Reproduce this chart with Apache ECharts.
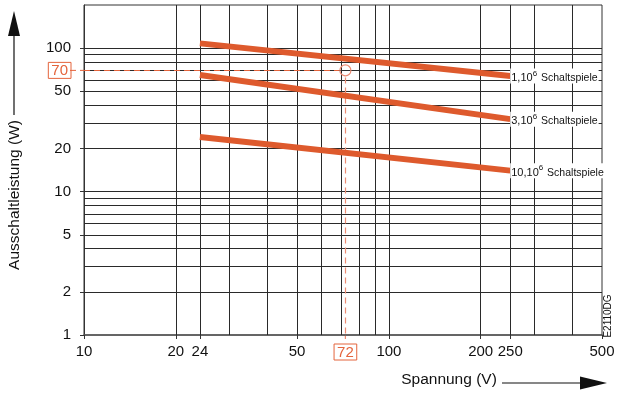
<!DOCTYPE html>
<html>
<head>
<meta charset="utf-8">
<script src="https://cdn.jsdelivr.net/npm/echarts@6/dist/echarts.min.js"></script>
<style>
  html, body { margin: 0; padding: 0; background: #fff; }
  #chart { width: 618px; height: 394px; }
</style>
</head>
<body>
<div id="chart"></div>
<script>
// Kurven: Ausschaltleistung ueber Spannung (log-log)
const voltage = [24, 250]
const power1M = [108, 64]
const power3M = [65, 32]
const power10M = [24, 14]
const curveLabels = ['1,10', '3,10', '10,10']

const xLabelValues = [10, 20, 24, 50, 72, 100, 200, 250, 500]
const yLabelValues = [1, 2, 5, 10, 20, 50, 70, 100]
const xGridValues = [20, 24, 30, 40, 50, 60, 70, 80, 90, 100, 200, 250, 300, 400]
const yGridValues = [2, 3, 4, 5, 6, 7, 8, 9, 10, 20, 30, 40, 50, 60, 70, 80, 90, 100]

// Ablesebeispiel
const refVoltage = 72
const refPower = 70

const red = '#de5a2d'
const refRed = '#e4643c'
const refPink = '#ec8c74'
const gridColor = '#2a2a2a'
const font = 'Liberation Sans, Arial, sans-serif'

const chart = echarts.init(document.getElementById('chart'))

function curve(values, idx) {
  return {
    type: 'line',
    z: 5,
    data: voltage.map((v, i) => [v, values[i]]),
    showSymbol: false,
    symbol: 'none',
    silent: true,
    lineStyle: { color: red, width: 6, cap: 'butt' },
    emphasis: { disabled: true },
    endLabel: {
      show: true,
      distance: 0,
      formatter: '{a|' + curveLabels[idx] + '}{sup|6}{b| Schaltspiele}',
      backgroundColor: '#fff',
      padding: [1, 1, 0, 1],
      rich: {
        a: { fontFamily: font, fontSize: 11, color: '#111', verticalAlign: 'bottom', lineHeight: 14 },
        sup: { fontFamily: font, fontSize: 8, color: '#111', verticalAlign: 'top', lineHeight: 14, padding: [0, 1, 6, 0] },
        b: { fontFamily: font, fontSize: 10.5, color: '#111', verticalAlign: 'bottom', lineHeight: 14 }
      }
    }
  }
}

chart.setOption({
  animation: false,
  grid: {
    left: 84,
    right: 16,
    top: 5,
    bottom: 59,
    show: true,
    borderColor: '#333',
    borderWidth: 1
  },
  xAxis: {
    type: 'log',
    logBase: 10,
    min: 10,
    max: 500,
    axisLine: { show: true, lineStyle: { color: '#555', width: 1.5 } },
    axisTick: { show: true, length: 4, customValues: [10, 20, 24, 50, 100, 200, 250, 500], lineStyle: { color: '#333' } },
    splitLine: { show: false },
    axisLabel: {
      customValues: xLabelValues,
      margin: 9,
      fontFamily: font,
      fontSize: 15,
      color: '#111',
      formatter: function (v) {
        return v === refVoltage ? '{box|' + v + '}' : String(v)
      },
      rich: {
        box: { color: refRed, borderColor: refRed, borderWidth: 1, padding: [1, 3, 0, 3], fontSize: 15, fontFamily: font }
      }
    }
  },
  yAxis: {
    type: 'log',
    logBase: 10,
    min: 1,
    max: 200,
    axisLine: { show: true, lineStyle: { color: '#333' } },
    axisTick: { show: true, length: 4, customValues: [1, 2, 5, 10, 20, 50, 100], lineStyle: { color: '#333' } },
    splitLine: { show: false },
    axisLabel: {
      customValues: yLabelValues,
      margin: 13,
      fontFamily: font,
      fontSize: 15,
      color: '#111',
      formatter: function (v) {
        return v === refPower ? '{box|' + v + '}' : String(v)
      },
      rich: {
        box: { color: refRed, borderColor: refRed, borderWidth: 1, padding: [1, 3, 0, 3], fontSize: 15, fontFamily: font }
      }
    }
  },
  series: [
    {
      // Gitternetz
      type: 'line',
      z: 1,
      data: [],
      silent: true,
      markLine: {
        silent: true,
        symbol: 'none',
        animation: false,
        label: { show: false },
        lineStyle: { color: gridColor, width: 1, type: 'solid' },
        emphasis: { disabled: true },
        data: xGridValues.map(v => ({ xAxis: v })).concat(yGridValues.map(v => ({ yAxis: v })))
      }
    },
    {
      // Ablesebeispiel 72 V / 70 W
      type: 'scatter',
      z: 6,
      data: [[refVoltage, refPower]],
      symbol: 'circle',
      symbolSize: 11,
      silent: true,
      itemStyle: { color: 'rgba(255,255,255,0)', borderColor: refPink, borderWidth: 1.2, opacity: 1 },
      markLine: {
        silent: true,
        symbol: 'none',
        animation: false,
        label: { show: false },
        emphasis: { disabled: true },
        data: [
          [{ coord: [10, refPower], lineStyle: { color: refRed, width: 1, type: [6, 4] } }, { coord: [refVoltage / 1.05, refPower] }],
          [{ coord: [refVoltage, refPower / 1.12], lineStyle: { color: refPink, width: 1.2, type: [6, 4] } }, { coord: [refVoltage, 1] }]
        ]
      }
    },
    curve(power1M, 0),
    curve(power3M, 1),
    curve(power10M, 2)
  ]
})

// Pfeile, Achsentitel und Verbindungsstuecke zu den Markierungen
const pRef = chart.convertToPixel({ gridIndex: 0 }, [refVoltage, refPower])
const pLeft = chart.convertToPixel({ gridIndex: 0 }, [10, 1])

chart.setOption({
  graphic: [
    { type: 'line', shape: { x1: pLeft[0] - 14, y1: pRef[1], x2: pLeft[0], y2: pRef[1] }, style: { stroke: refRed, lineWidth: 1, lineDash: [6, 4] }, silent: true },
    { type: 'line', shape: { x1: pRef[0], y1: pLeft[1], x2: pRef[0], y2: pLeft[1] + 7 }, style: { stroke: refPink, lineWidth: 1.2, lineDash: [4, 3] }, silent: true },
    // y-Achse
    { type: 'line', shape: { x1: 14, y1: 34, x2: 14, y2: 115 }, style: { stroke: '#111', lineWidth: 1.2 }, silent: true },
    { type: 'polygon', shape: { points: [[14, 11], [8, 36], [20, 36]] }, style: { fill: '#111' }, silent: true },
    {
      type: 'text', x: 15, y: 195, rotation: Math.PI / 2, silent: true,
      style: { text: 'Ausschaltleistung (W)', font: '15.5px ' + font, fill: '#111', align: 'center', verticalAlign: 'middle' }
    },
    // x-Achse
    {
      type: 'text', x: 449, y: 380, silent: true,
      style: { text: 'Spannung (V)', font: '15.5px ' + font, fill: '#111', align: 'center', verticalAlign: 'middle' }
    },
    { type: 'line', shape: { x1: 502, y1: 383, x2: 582, y2: 383 }, style: { stroke: '#111', lineWidth: 1.2 }, silent: true },
    { type: 'polygon', shape: { points: [[607, 383], [580, 376.5], [580, 389.5]] }, style: { fill: '#111' }, silent: true },
    // Bildnummer
    {
      type: 'text', x: 608, y: 316, rotation: Math.PI / 2, silent: true,
      style: { text: 'E2110DG', font: '10px ' + font, fill: '#111', align: 'center', verticalAlign: 'middle' }
    }
  ]
})
</script>
</body>
</html>
